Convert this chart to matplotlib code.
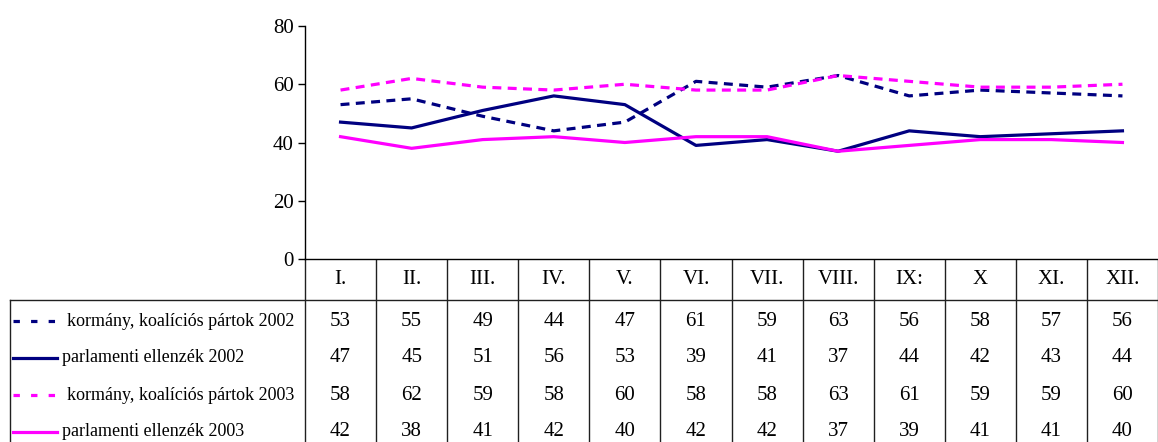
import matplotlib.pyplot as plt

months = ["I.", "II.", "III.", "IV.", "V.", "VI.", "VII.", "VIII.", "IX:", "X", "XI.", "XII."]
korm_2002 = [53, 55, 49, 44, 47, 61, 59, 63, 56, 58, 57, 56]
ellenzek_2002 = [47, 45, 51, 56, 53, 39, 41, 37, 44, 42, 43, 44]
korm_2003 = [58, 62, 59, 58, 60, 58, 58, 63, 61, 59, 59, 60]
ellenzek_2003 = [42, 38, 41, 42, 40, 42, 42, 37, 39, 41, 41, 40]
labels = ["kormány, koalíciós pártok 2002", "parlamenti ellenzék 2002",
          "kormány, koalíciós pártok 2003", "parlamenti ellenzék 2003"]

navy = "#000080"
magenta = "#FF00FF"
dash = (0, (2.8, 2.0))
styles = [(navy, dash), (navy, "-"), (magenta, dash), (magenta, "-")]
series = [korm_2002, ellenzek_2002, korm_2003, ellenzek_2003]

plt.rcParams["font.family"] = ["Liberation Serif", "DejaVu Serif"]

W, H = 1158, 442
fig = plt.figure(figsize=(W / 100, H / 100), dpi=100)

# plot area in pixels
x0, x1, ytop, ybot = 305, 1158, 26, 259
ax = fig.add_axes([x0 / W, 1 - ybot / H, (x1 - x0) / W, (ybot - ytop) / H])
xs = [i + 0.5 for i in range(len(months))]
for vals, (col, ls) in zip(series, styles):
    ax.plot(xs, vals, color=col, linestyle=ls, linewidth=2.3)
ax.set_xlim(0, len(months))
ax.set_ylim(0, 80)
ax.set_yticks([0, 20, 40, 60, 80])
ax.set_xticks([])
ax.tick_params(axis="y", direction="out", length=5, width=1, labelsize=15, pad=3)
for s in ["top", "right"]:
    ax.spines[s].set_visible(False)
ax.spines["left"].set_linewidth(1)
ax.spines["bottom"].set_linewidth(1)

# data table drawn in a pixel-space overlay
tab = fig.add_axes([0, 0, 1, 1], zorder=-1)
tab.set_xlim(0, W)
tab.set_ylim(H, 0)
tab.axis("off")

colw = (x1 - x0) / len(months)
grid = "#202020"
for i in range(len(months) + 1):
    xc = x0 + i * colw
    tab.plot([xc, xc], [ybot, H], color=grid, lw=1)
tab.plot([10, 10], [300, H], color=grid, lw=1)
tab.plot([10, x1], [300, 300], color=grid, lw=1)

for i, m in enumerate(months):
    tab.text(x0 + (i + 0.5) * colw, 280, m, ha="center", va="center", fontsize=15)

row_y = [321, 358, 395, 432]
for r, (vals, lab, (col, ls)) in enumerate(zip(series, labels, styles)):
    y = row_y[r]
    if ls == "-":
        tab.plot([13, 57], [y, y], color=col, lw=2.3)
        tab.text(62, y, lab, ha="left", va="center", fontsize=13)
    else:
        tab.plot([13, 55], [y, y], color=col, lw=2.3, linestyle=(0, (2, 3.5)))
        tab.text(67, y, lab, ha="left", va="center", fontsize=13)
    for i, v in enumerate(vals):
        tab.text(x0 + (i + 0.5) * colw, y, str(v), ha="center", va="center", fontsize=15)

fig.savefig("out.png", dpi=100)
